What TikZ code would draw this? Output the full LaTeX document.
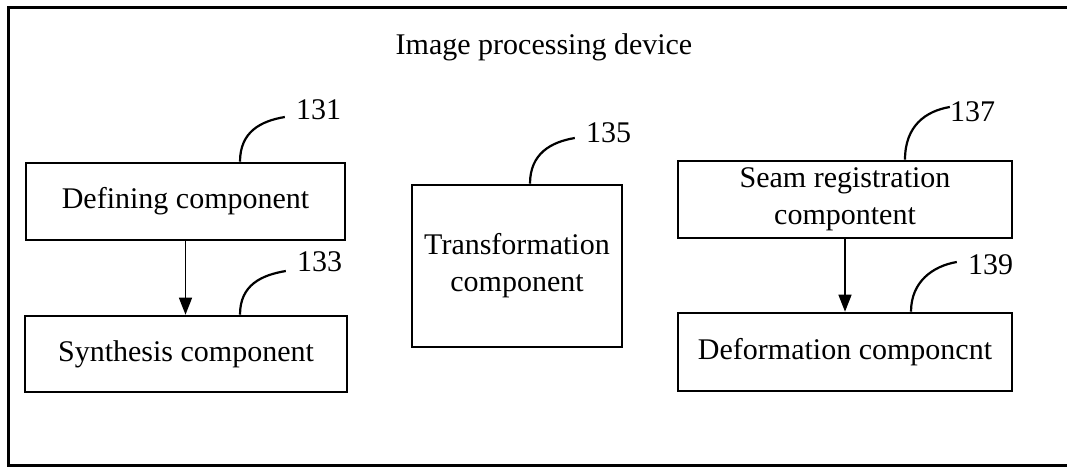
\documentclass[tikz,border=0pt]{standalone}
\usepackage{fontspec}
\setmainfont{Liberation Serif}
\usepackage{tikz}
\usetikzlibrary{arrows.meta}

\tikzset{
  comp/.style={draw, line width=2.6pt, inner sep=0pt, align=center},
  num/.style={inner sep=11pt},
  leader/.style={line width=2.2pt},
  flow/.style={line width=1.4pt, -{Triangle[width=13pt,length=17pt]}}
}

\begin{document}
\begin{tikzpicture}[x=1pt, y=-1pt, font=\fontsize{30}{37}\selectfont]
    \useasboundingbox (0,0) rectangle (1067,467);
    \draw[line width=3pt] (8,7) rectangle (1080,465);
    \node[anchor=base] (title) at (544,54) {Image processing device};

    % left column
    \node[comp, minimum width=319pt, minimum height=77pt] (def) at (185.5,201.5) {Defining component};
    \node[comp, minimum width=322pt, minimum height=76pt] (syn) at (186,354) {Synthesis component};
    % middle
    \node[comp, minimum width=210pt, minimum height=162pt] (trans) at (517,266) {Transformation\\component};
    % right column
    \node[comp, minimum width=334pt, minimum height=77pt] (seam) at (845,199.5) {Seam registration\\compontent};
    \node[comp, minimum width=334pt, minimum height=78pt] (defo) at (845,352) {Deformation componcnt};

    \node[num] (n131) at (318.5,110) {131};
    \node[num] (n133) at (319.5,262) {133};
    \node[num] (n135) at (608.5,133) {135};
    \node[num] (n137) at (972.5,112) {137};
    \node[num] (n139) at (990.5,265) {139};

    \draw[flow] (def.south) -- (def.south |- syn.north);
    \draw[flow] (seam.south) -- (seam.south |- defo.north);

    \draw[leader] ([xshift=54.5pt]def.north) .. controls +(0,-30) and +(-24,4) .. ([yshift=-7pt]n131.west);
    \draw[leader] ([xshift=54pt]syn.north) .. controls +(0,-30) and +(-24,4) .. ([yshift=-9pt]n133.west);
    \draw[leader] ([xshift=13pt]trans.north) .. controls +(0,-30) and +(-24,4) .. ([yshift=-5pt]n135.west);
    \draw[leader] ([xshift=60pt]seam.north) .. controls +(0,-34) and +(-24,4) .. ([xshift=11pt,yshift=5pt]n137.west);
    \draw[leader] ([xshift=66pt]defo.north) .. controls +(0,-30) and +(-24,4) .. ([yshift=3pt]n139.west);
  \end{tikzpicture}
\end{document}
